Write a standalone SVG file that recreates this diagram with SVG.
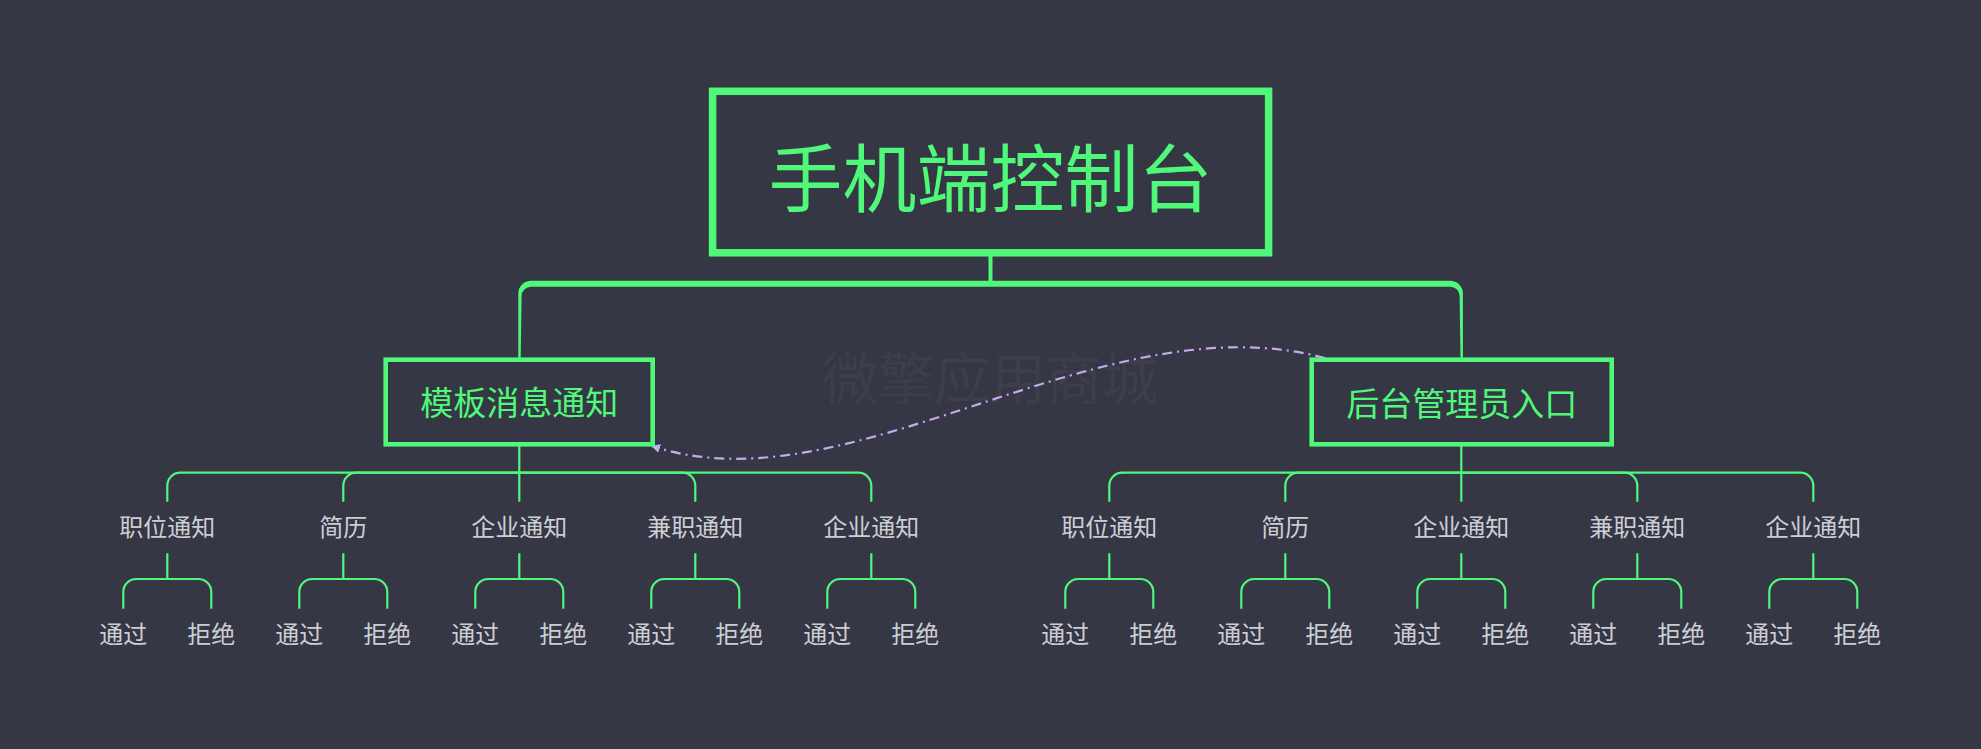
<svg xmlns="http://www.w3.org/2000/svg" width="1981" height="749" viewBox="0 0 1981 749">
<defs>
<style>
.bg{fill:#353744}
.box{fill:none;stroke:#50f87a}
.ln{fill:none;stroke:#50f87a;stroke-width:2.2}
.t-root{font-family:"Noto Sans CJK SC","Noto Sans",sans-serif;font-size:74px;fill:#50f87a;text-anchor:middle;dominant-baseline:central}
.t-l1{font-family:"Noto Sans CJK SC","Noto Sans",sans-serif;font-size:33px;fill:#50f87a;text-anchor:middle;dominant-baseline:central}
.t-l2{font-family:"Noto Sans CJK SC","Noto Sans",sans-serif;font-size:24px;fill:#cdced4;text-anchor:middle;dominant-baseline:central}
.wm{font-family:"Noto Sans CJK SC","Noto Sans",sans-serif;font-size:56px;fill:#3c3e4a;text-anchor:middle;dominant-baseline:central}
.rel{fill:none;stroke:#c8a8f0;stroke-width:2.2;stroke-dasharray:10 5 2 5}
</style>
<marker id="arr" viewBox="0 0 10 10" refX="9" refY="5" markerWidth="9" markerHeight="9" markerUnits="userSpaceOnUse" orient="auto">
<path d="M0,0 L10,5 L0,10 Z" fill="#c8a8f0"/>
</marker>
</defs>
<rect class="bg" x="0" y="0" width="1981" height="749"/>
<text class="wm" x="990" y="374" textLength="336" lengthAdjust="spacingAndGlyphs">微擎应用商城</text>

<g id="connectors">
<!-- root to level1 (tapered) -->
<path d="M990.5,254 V282" stroke="#50f87a" stroke-width="4" fill="none"/>
<path d="M990.5,280.7 H531 A12.7,12.7 0 0 0 518.3,293.4 V357.7 H520.7 L521.6,296 A9.4,9.4 0 0 1 531,286.7 H1450 A9.4,9.4 0 0 1 1459.6,296 L1460.5,357.7 H1462.9 V293.4 A12.7,12.7 0 0 0 1450.2,280.7 Z" fill="#50f87a"/>
<!-- left group -->
<path class="ln" d="M519.3,444.3 V501.7"/>
<path class="ln" d="M519.3,472.7 H180.3 A13,13 0 0 0 167.3,485.7 V501.7"/>
<path class="ln" d="M519.3,472.7 H356.3 A13,13 0 0 0 343.3,485.7 V501.7"/>
<path class="ln" d="M519.3,472.7 H682.3 A13,13 0 0 1 695.3,485.7 V501.7"/>
<path class="ln" d="M519.3,472.7 H858.3 A13,13 0 0 1 871.3,485.7 V501.7"/>
<!-- right group -->
<path class="ln" d="M1461.3,444.3 V501.7"/>
<path class="ln" d="M1461.3,472.7 H1122.3 A13,13 0 0 0 1109.3,485.7 V501.7"/>
<path class="ln" d="M1461.3,472.7 H1298.3 A13,13 0 0 0 1285.3,485.7 V501.7"/>
<path class="ln" d="M1461.3,472.7 H1624.3 A13,13 0 0 1 1637.3,485.7 V501.7"/>
<path class="ln" d="M1461.3,472.7 H1800.3 A13,13 0 0 1 1813.3,485.7 V501.7"/>
<!-- leaf brackets -->
<g id="brackets">
<path class="ln" d="M167.3,553.3 V579 M136.3,579 H198.3 M136.3,579 A13,13 0 0 0 123.3,592 V608.7 M198.3,579 A13,13 0 0 1 211.3,592 V608.7"/>
<path class="ln" d="M343.3,553.3 V579 M312.3,579 H374.3 M312.3,579 A13,13 0 0 0 299.3,592 V608.7 M374.3,579 A13,13 0 0 1 387.3,592 V608.7"/>
<path class="ln" d="M519.3,553.3 V579 M488.3,579 H550.3 M488.3,579 A13,13 0 0 0 475.3,592 V608.7 M550.3,579 A13,13 0 0 1 563.3,592 V608.7"/>
<path class="ln" d="M695.3,553.3 V579 M664.3,579 H726.3 M664.3,579 A13,13 0 0 0 651.3,592 V608.7 M726.3,579 A13,13 0 0 1 739.3,592 V608.7"/>
<path class="ln" d="M871.3,553.3 V579 M840.3,579 H902.3 M840.3,579 A13,13 0 0 0 827.3,592 V608.7 M902.3,579 A13,13 0 0 1 915.3,592 V608.7"/>
<path class="ln" d="M1109.3,553.3 V579 M1078.3,579 H1140.3 M1078.3,579 A13,13 0 0 0 1065.3,592 V608.7 M1140.3,579 A13,13 0 0 1 1153.3,592 V608.7"/>
<path class="ln" d="M1285.3,553.3 V579 M1254.3,579 H1316.3 M1254.3,579 A13,13 0 0 0 1241.3,592 V608.7 M1316.3,579 A13,13 0 0 1 1329.3,592 V608.7"/>
<path class="ln" d="M1461.3,553.3 V579 M1430.3,579 H1492.3 M1430.3,579 A13,13 0 0 0 1417.3,592 V608.7 M1492.3,579 A13,13 0 0 1 1505.3,592 V608.7"/>
<path class="ln" d="M1637.3,553.3 V579 M1606.3,579 H1668.3 M1606.3,579 A13,13 0 0 0 1593.3,592 V608.7 M1668.3,579 A13,13 0 0 1 1681.3,592 V608.7"/>
<path class="ln" d="M1813.3,553.3 V579 M1782.3,579 H1844.3 M1782.3,579 A13,13 0 0 0 1769.3,592 V608.7 M1844.3,579 A13,13 0 0 1 1857.3,592 V608.7"/>
</g>
<!-- relationship -->
<path class="rel" d="M1325,358 C1100,298 850,512 652,446" marker-end="url(#arr)"/>
</g>

<g id="root">
<rect class="box" x="712.6" y="91.3" width="556" height="161.5" stroke-width="7.5"/>
<text class="t-root" x="990.5" y="173">手机端控制台</text>
</g>
<g id="n-template">
<rect class="box" x="385.7" y="359.7" width="267" height="84.6" stroke-width="4.6"/>
<text class="t-l1" x="519.3" y="401">模板消息通知</text>
</g>
<g id="n-admin">
<rect class="box" x="1311.7" y="359.7" width="300" height="84.6" stroke-width="4.6"/>
<text class="t-l1" x="1461.7" y="402">后台管理员入口</text>
</g>

<g id="left-children">
<g id="l1"><text class="t-l2" x="167.3" y="525">职位通知</text></g>
<g id="l2"><text class="t-l2" x="343.3" y="525">简历</text></g>
<g id="l3"><text class="t-l2" x="519.3" y="525">企业通知</text></g>
<g id="l4"><text class="t-l2" x="695.3" y="525">兼职通知</text></g>
<g id="l5"><text class="t-l2" x="871.3" y="525">企业通知</text></g>
</g>
<g id="right-children">
<g id="r1"><text class="t-l2" x="1109.3" y="525">职位通知</text></g>
<g id="r2"><text class="t-l2" x="1285.3" y="525">简历</text></g>
<g id="r3"><text class="t-l2" x="1461.3" y="525">企业通知</text></g>
<g id="r4"><text class="t-l2" x="1637.3" y="525">兼职通知</text></g>
<g id="r5"><text class="t-l2" x="1813.3" y="525">企业通知</text></g>
</g>
<g id="leaves">
<g id="l1a"><text class="t-l2" x="123.3" y="632.5">通过</text></g>
<g id="l1b"><text class="t-l2" x="211.3" y="632.5">拒绝</text></g>
<g id="l2a"><text class="t-l2" x="299.3" y="632.5">通过</text></g>
<g id="l2b"><text class="t-l2" x="387.3" y="632.5">拒绝</text></g>
<g id="l3a"><text class="t-l2" x="475.3" y="632.5">通过</text></g>
<g id="l3b"><text class="t-l2" x="563.3" y="632.5">拒绝</text></g>
<g id="l4a"><text class="t-l2" x="651.3" y="632.5">通过</text></g>
<g id="l4b"><text class="t-l2" x="739.3" y="632.5">拒绝</text></g>
<g id="l5a"><text class="t-l2" x="827.3" y="632.5">通过</text></g>
<g id="l5b"><text class="t-l2" x="915.3" y="632.5">拒绝</text></g>
<g id="r1a"><text class="t-l2" x="1065.3" y="632.5">通过</text></g>
<g id="r1b"><text class="t-l2" x="1153.3" y="632.5">拒绝</text></g>
<g id="r2a"><text class="t-l2" x="1241.3" y="632.5">通过</text></g>
<g id="r2b"><text class="t-l2" x="1329.3" y="632.5">拒绝</text></g>
<g id="r3a"><text class="t-l2" x="1417.3" y="632.5">通过</text></g>
<g id="r3b"><text class="t-l2" x="1505.3" y="632.5">拒绝</text></g>
<g id="r4a"><text class="t-l2" x="1593.3" y="632.5">通过</text></g>
<g id="r4b"><text class="t-l2" x="1681.3" y="632.5">拒绝</text></g>
<g id="r5a"><text class="t-l2" x="1769.3" y="632.5">通过</text></g>
<g id="r5b"><text class="t-l2" x="1857.3" y="632.5">拒绝</text></g>
</g>
</svg>
